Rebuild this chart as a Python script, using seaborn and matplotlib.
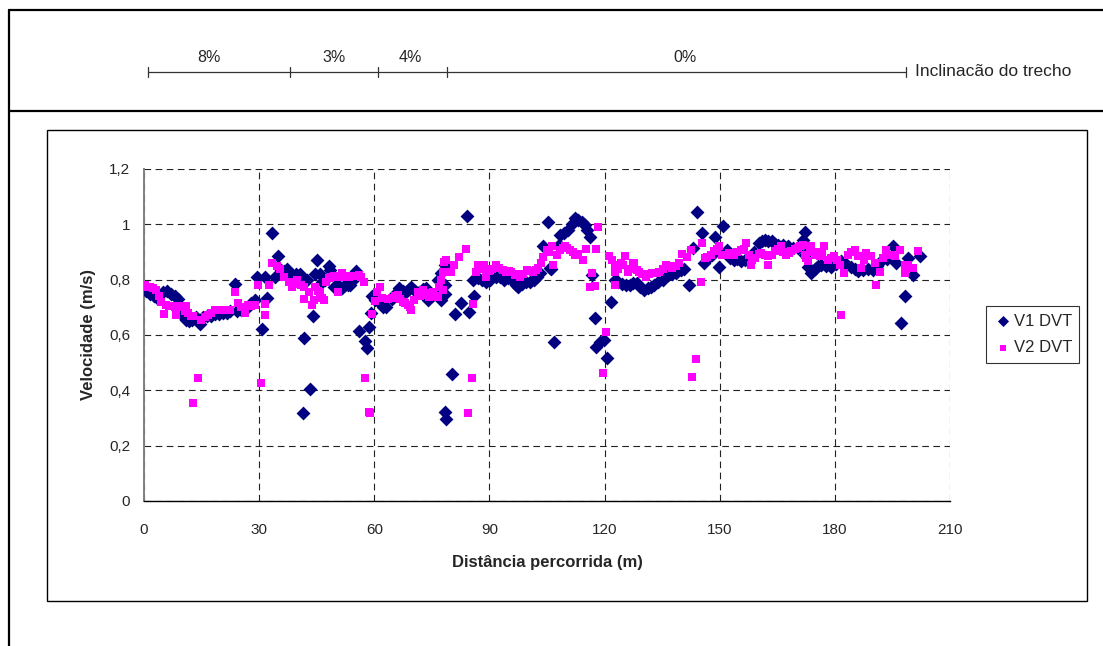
import matplotlib
matplotlib.use("Agg")
import matplotlib.pyplot as plt
import seaborn as sns
import pandas as pd
from matplotlib.lines import Line2D
from matplotlib.patches import Rectangle

# ---------------- data ----------------
v1_x = [0.5,1.5,2.5,3.5,5,6,7,8,8.8,9.5,10.2,11,11.8,12.6,13.5,14.5,15.5,16.5,17.5,18.5,19.5,20.5,21.5,22.5,23.6,24.2,25.2,26.2,27.2,28,
        28.8,29.4,30.7,31.5,32,33.4,34.1,34.8,35.6,36.4,37.2,38,38.8,39.6,40.6,41.3,41.8,42.5,43.3,44,44.6,45.1,45.9,46.5,47.2,48.1,48.5,49.4,50.2,51,
        51.6,52.4,53.2,53.8,54.5,55.3,55.9,57.5,58,58.7,59.1,59.4,60.3,61.2,62.4,63,64.5,65.5,66.5,67.4,68.3,69,69.6,70.5,71.7,72.6,73.5,73.9,75,76,
        76.5,77,77.4,77.4,78.3,78.3,78.5,78.5,78.7,80.2,81.1,82.6,84.2,84.6,85.6,86.1,86.9,88,89.1,90.2,91.7,92.8,93.8,94.8,95.4,96.9,97.5,98.5,99.5,100.6,
        101.5,102.3,103.2,104,105.3,105.8,106,106.9,108,108.4,109.5,110.6,111.5,112.3,113.2,114,114.9,115.5,116.2,116.6,117.6,117.8,118.8,119.9,120.7,121.6,122.7,123.5,124.5,125.7,
        126.5,127.5,128.4,129.3,130.3,131.2,132,132.9,134,135.2,136.4,137.5,138.6,139.8,140.8,142,143.1,144,145.3,145.9,147,148,148.8,149.8,150.9,152,152.8,153.7,154.5,155.5,
        156.5,157.3,158.1,159,160.2,161,161.7,162.5,163.5,164.3,165.2,166.5,167.8,169,170.4,171.7,172.1,172.1,173,173.9,174.8,175.6,176.5,177.8,179.1,180.4,181.7,183,184.3,185.2,
        186,187.3,188.6,189.9,191,192.1,193.5,195.1,196,197.2,198.2,199.1,200.4,202.1]
v1_y = [0.76,0.75,0.74,0.735,0.755,0.76,0.75,0.74,0.73,0.70,0.67,0.655,0.65,0.655,0.665,0.64,0.665,0.67,0.67,0.675,0.675,0.68,0.68,0.685,0.785,0.685,0.69,0.695,0.70,0.715,
        0.727,0.81,0.62,0.81,0.735,0.968,0.81,0.886,0.835,0.83,0.84,0.825,0.81,0.82,0.82,0.318,0.59,0.80,0.405,0.67,0.82,0.87,0.82,0.79,0.80,0.85,0.835,0.775,0.78,0.775,
        0.77,0.78,0.78,0.78,0.80,0.83,0.615,0.58,0.553,0.63,0.68,0.74,0.727,0.72,0.70,0.70,0.73,0.75,0.77,0.76,0.757,0.765,0.775,0.76,0.757,0.765,0.77,0.727,0.74,0.75,
        0.80,0.74,0.727,0.823,0.853,0.78,0.75,0.32,0.295,0.46,0.676,0.715,1.03,0.682,0.80,0.741,0.805,0.80,0.793,0.80,0.81,0.81,0.80,0.805,0.805,0.78,0.775,0.785,0.79,0.793,
        0.80,0.81,0.823,0.92,1.01,0.842,0.84,0.576,0.925,0.962,0.97,0.98,1.00,1.022,1.016,1.01,0.998,0.98,0.956,0.817,0.66,0.558,0.576,0.582,0.516,0.72,0.80,0.79,0.785,0.78,
        0.78,0.787,0.787,0.775,0.763,0.77,0.775,0.78,0.79,0.80,0.817,0.82,0.825,0.835,0.84,0.78,0.914,1.046,0.968,0.86,0.88,0.89,0.956,0.847,0.995,0.908,0.88,0.87,0.875,0.866,
        0.87,0.875,0.878,0.90,0.932,0.94,0.944,0.94,0.938,0.93,0.926,0.925,0.92,0.915,0.914,0.944,0.974,0.89,0.847,0.823,0.84,0.85,0.853,0.85,0.847,0.855,0.866,0.855,0.847,0.84,
        0.83,0.835,0.84,0.836,0.85,0.866,0.875,0.92,0.86,0.645,0.74,0.878,0.817,0.884]

v2_x = [0.2,1,1.5,2.3,3.2,3.8,4.5,5.2,5.8,6.5,7.1,8,8.4,8.9,9.8,10.6,11,11.5,12.2,12.8,12.8,14.1,14.9,15.8,16.7,17.5,18.4,19.5,20.6,21.5,
        22.3,23.6,24.5,25.3,26.2,27.1,28,28.8,29.7,30.6,31.4,31.6,32.5,33.4,34.7,35.5,36.4,37.7,38.6,39.3,39.9,40.8,41.6,41.6,42.9,43.8,44.2,44.6,45.3,45.9,
        46.4,46.8,47.5,48.1,48.8,49.4,50.6,50.7,51.6,52.3,52.9,53.5,54.2,55,55.9,56.5,57.2,57.7,58.5,59,59.4,60.3,60.7,61.6,62,63.5,64.5,65.3,66.1,66.8,
        67.4,68,68.7,69.2,69.6,70.4,71.3,72,72.6,73.3,73.9,74.3,75.2,76,76.5,76.9,77.4,77.8,77.8,78.2,78.7,80,80.8,82.1,83.9,84.3,85.5,85.8,86.5,86.9,
        88,88.7,89.1,90,90.8,91.7,92.6,93.5,94.3,95,95.6,96.7,97.3,98,98.8,99.7,100.5,101.4,102.1,102.7,103.4,104,104.9,105.5,106.2,106.6,107.5,108.4,109.1,109.7,
        110.3,111,111.7,112.3,113.2,114.4,115.2,116.2,116.6,117.5,117.8,118.3,119.7,120.5,121.2,121.9,122.7,122.7,122.7,123.5,124.2,124.9,125.3,126.2,126.8,127.5,127.7,128.4,129,129.8,
        130.7,131.5,132.4,133.3,134.2,135.1,135.9,136.8,137.6,138.5,139.4,140.3,141.6,142.4,142.9,143.7,145,145.5,146.2,146.8,147.6,148.5,149.2,149.8,150.7,151.5,152.4,153,153.7,154.6,
        155.5,156.2,156.8,157.5,158.1,158.5,159.3,160.2,160.8,161.7,162.6,162.6,163.5,164.3,165.1,166,166.6,167.3,168,168.6,169.5,170.4,171,171.7,172.1,172.6,173,173.5,173.9,174.5,
        175.2,176.1,176.7,177.3,178.2,179,179.9,180.6,181.3,181.5,182.4,183.4,184.3,185.2,186,186.9,187.5,188.2,189.5,190.4,190.8,191.7,192.5,193.4,194.7,195.6,196.9,198.2,198.2,199.1,
        200.4,201.7]
v2_y = [0.78,0.775,0.773,0.77,0.763,0.741,0.72,0.675,0.709,0.705,0.705,0.70,0.673,0.705,0.70,0.685,0.705,0.679,0.67,0.667,0.353,0.444,0.655,0.665,0.673,0.68,0.691,0.69,0.691,0.69,
        0.691,0.757,0.715,0.70,0.679,0.709,0.705,0.709,0.779,0.426,0.673,0.711,0.78,0.86,0.85,0.839,0.811,0.793,0.775,0.785,0.799,0.78,0.775,0.729,0.757,0.709,0.727,0.775,0.76,0.757,
        0.733,0.727,0.79,0.805,0.81,0.814,0.755,0.809,0.824,0.815,0.809,0.81,0.814,0.815,0.817,0.81,0.79,0.446,0.323,0.317,0.675,0.723,0.757,0.775,0.733,0.73,0.735,0.74,0.745,0.73,
        0.721,0.715,0.709,0.70,0.691,0.727,0.757,0.74,0.763,0.745,0.751,0.739,0.757,0.741,0.739,0.775,0.799,0.829,0.763,0.865,0.871,0.829,0.853,0.883,0.91,0.317,0.446,0.711,0.829,0.853,
        0.84,0.853,0.809,0.83,0.84,0.853,0.841,0.835,0.829,0.83,0.826,0.817,0.82,0.811,0.82,0.835,0.83,0.829,0.835,0.841,0.86,0.883,0.908,0.90,0.92,0.854,0.89,0.908,0.915,0.92,
        0.915,0.908,0.90,0.89,0.892,0.872,0.91,0.775,0.823,0.778,0.91,0.99,0.464,0.612,0.886,0.87,0.854,0.829,0.781,0.84,0.86,0.854,0.886,0.829,0.84,0.862,0.86,0.835,0.829,0.82,
        0.811,0.82,0.823,0.825,0.829,0.84,0.854,0.85,0.841,0.85,0.86,0.892,0.883,0.908,0.45,0.512,0.79,0.934,0.88,0.883,0.89,0.902,0.91,0.922,0.89,0.89,0.896,0.89,0.89,0.90,
        0.908,0.91,0.934,0.89,0.854,0.872,0.88,0.892,0.896,0.89,0.884,0.854,0.89,0.902,0.91,0.92,0.90,0.89,0.895,0.902,0.91,0.914,0.92,0.926,0.89,0.88,0.866,0.90,0.92,0.90,
        0.89,0.884,0.90,0.92,0.872,0.88,0.884,0.87,0.854,0.673,0.823,0.89,0.90,0.908,0.884,0.841,0.87,0.896,0.884,0.86,0.781,0.829,0.88,0.908,0.89,0.884,0.908,0.854,0.823,0.854,
        0.841,0.902]

series_names = ["V1 DVT", "V2 DVT"]
x_ticks = [0, 30, 60, 90, 120, 150, 180, 210]
y_ticks = [0, 0.2, 0.4, 0.6, 0.8, 1.0, 1.2]
y_tick_labels = ["0", "0,2", "0,4", "0,6", "0,8", "1", "1,2"]

slope_bounds = [1, 38, 61, 79, 198.5]
slope_labels = ["8%", "3%", "4%", "0%"]
slope_label_x = [17, 49.5, 69.5, 141]

# ---------------- style ----------------
sns.set_style("white")
plt.rcParams['font.family'] = ['Liberation Sans', 'DejaVu Sans']

W, H = 1103, 646
fig = plt.figure(figsize=(W / 100, H / 100), dpi=100)

# outer frame lines
fx = lambda px: px / W
fy = lambda py: 1 - py / H
fig.add_artist(Line2D([fx(9), fx(9)], [0, fy(10)], color='black', lw=1.6, transform=fig.transFigure))
fig.add_artist(Line2D([fx(9), 1], [fy(10), fy(10)], color='black', lw=1.6, transform=fig.transFigure))
fig.add_artist(Line2D([fx(9), 1], [fy(111), fy(111)], color='black', lw=1.6, transform=fig.transFigure))

# chart area box
fig.add_artist(Rectangle((fx(47), fy(601)), (1087 - 47) / W, (601 - 130) / H, fill=False,
                         ec='black', lw=1.0, transform=fig.transFigure))

# ---------------- main plot ----------------
ax = fig.add_axes([fx(144), fy(501), (950 - 144) / W, (501 - 169) / H])

df1 = pd.DataFrame({"x": v1_x, "y": v1_y})
df2 = pd.DataFrame({"x": v2_x, "y": v2_y})
sns.scatterplot(data=df1, x="x", y="y", marker='D', color='#000080', s=50, linewidth=0,
                ax=ax, label=series_names[0], zorder=3)
sns.scatterplot(data=df2, x="x", y="y", marker='s', color='#FF00FF', s=34, linewidth=0,
                ax=ax, label=series_names[1], zorder=4)

ax.set_xlim(0, 210)
ax.set_ylim(0, 1.2)
ax.set_xticks(x_ticks)
ax.set_xticklabels([str(t) for t in x_ticks])
ax.set_yticks(y_ticks)
ax.set_yticklabels(y_tick_labels)
ax.grid(True, color='#222222', linestyle=(0, (6, 4)), lw=0.8, zorder=0)
ax.set_axisbelow(True)
for side in ['top', 'right']:
    ax.spines[side].set_visible(False)
ax.spines['left'].set_color('#808080')
ax.spines['left'].set_linewidth(1.4)
ax.spines['bottom'].set_color('black')
ax.spines['bottom'].set_linewidth(1.0)
ax.tick_params(axis='x', direction='out', length=4, width=0.8, color='black', pad=12, labelsize=11)
ax.tick_params(axis='y', direction='out', length=4, width=0.8, color='#808080', pad=6, labelsize=11)

ax.set_xlabel("Distância percorrida (m)", fontsize=12, fontweight='bold')
ax.set_ylabel("Velocidade (m/s)", fontsize=12, fontweight='bold')
ax.xaxis.set_label_coords(0.5, (501 - 563) / 332)
ax.yaxis.set_label_coords((88 - 144) / 806, 0.5)
for lbl in [ax.xaxis.label, ax.yaxis.label]:
    lbl.set_va('center')

leg = ax.legend(loc='center left', bbox_to_anchor=(fx(986), fy(334.5)), bbox_transform=fig.transFigure,
                frameon=True, fancybox=False, edgecolor='black', fontsize=12, borderpad=0.45,
                handletextpad=0.1, labelspacing=0.7, handlelength=1.1, borderaxespad=0, markerscale=0.8)
leg.get_frame().set_linewidth(0.8)

# ---------------- slope ruler ----------------
axr = fig.add_axes([fx(144), fy(111), (950 - 144) / W, (111 - 10) / H])
axr.set_xlim(0, 210)
axr.set_ylim(0, 1)
axr.axis('off')
ry = (111 - 72) / 101
axr.plot([slope_bounds[0], slope_bounds[-1]], [ry, ry], color='#333333', lw=0.9, clip_on=False)
for b in slope_bounds:
    axr.plot([b, b], [ry - 0.05, ry + 0.05], color='#333333', lw=0.9, clip_on=False)
ly = (111 - 57) / 101
for lx, lab in zip(slope_label_x, slope_labels):
    axr.text(lx, ly, lab, ha='center', va='center', fontsize=11.5)
axr.text(slope_bounds[-1] + 2.5, ry, "Inclinacão do trecho", ha='left', va='center', fontsize=12.5, clip_on=False)

fig.savefig("out.png", dpi=100)
